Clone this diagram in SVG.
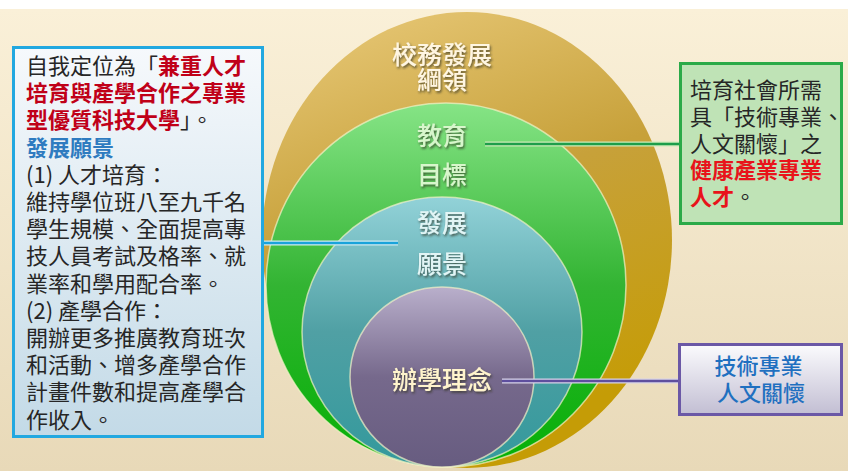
<svg xmlns="http://www.w3.org/2000/svg" width="848" height="471" viewBox="0 0 848 471">
  <defs>
    <linearGradient id="bg" x1="0" y1="0" x2="0" y2="1">
      <stop offset="0" stop-color="#FAF0D8"/>
      <stop offset="1" stop-color="#E8D9B8"/>
    </linearGradient>
    <linearGradient id="gold" x1="0" y1="0" x2="0.3" y2="1">
      <stop offset="0" stop-color="#EACB7C"/>
      <stop offset="0.5" stop-color="#C7A13A"/>
      <stop offset="1" stop-color="#C59C06"/>
    </linearGradient>
    <linearGradient id="green" x1="0" y1="0" x2="0" y2="1">
      <stop offset="0" stop-color="#86E486"/>
      <stop offset="0.5" stop-color="#33B433"/>
      <stop offset="1" stop-color="#04B004"/>
    </linearGradient>
    <linearGradient id="teal" x1="0" y1="0" x2="0" y2="1">
      <stop offset="0" stop-color="#92D2D8"/>
      <stop offset="0.5" stop-color="#50A0A4"/>
      <stop offset="1" stop-color="#33999C"/>
    </linearGradient>
    <linearGradient id="purple" x1="0" y1="0" x2="0" y2="1">
      <stop offset="0" stop-color="#B9AFCB"/>
      <stop offset="0.5" stop-color="#76698C"/>
      <stop offset="1" stop-color="#675C80"/>
    </linearGradient>
    <linearGradient id="leftfill" x1="0" y1="0" x2="0" y2="1">
      <stop offset="0" stop-color="#F6F9FC"/>
      <stop offset="1" stop-color="#C3DAE7"/>
    </linearGradient>
    <linearGradient id="purplefill" x1="0" y1="0" x2="0" y2="1">
      <stop offset="0" stop-color="#FBFBFD"/>
      <stop offset="1" stop-color="#C2BED3"/>
    </linearGradient>
    <filter id="shadow" x="-20%" y="-30%" width="140%" height="160%">
      <feDropShadow dx="1.2" dy="1.8" stdDeviation="0.9" flood-color="#303020" flood-opacity="0.75"/>
    </filter>
  </defs>
  <style>
    text { font-family: "Noto Sans CJK TC", "Noto Sans CJK SC", sans-serif; }
    .body { font-size: 22px; fill: #262626; }
    .red { fill: #C00018; font-weight: 700; }
    .bred { fill: #E8141B; font-weight: 700; }
    .blue { fill: #2E7BC0; font-weight: 700; }
    .lbl { font-size: 25px; font-weight: 500; text-anchor: middle; filter: url(#shadow); }
    .rim { stroke: #F4F2C8; stroke-opacity: 0.7; stroke-width: 1.5; }
  </style>

  <rect x="0" y="0" width="848" height="471" fill="#FFFFFF"/>
  <rect x="0" y="9" width="848" height="462" fill="url(#bg)"/>

  <g id="circles">
    <ellipse id="c-outer" cx="467" cy="240" rx="205" ry="228" fill="url(#gold)"/>
    <ellipse id="c-green" cx="446" cy="285" rx="180" ry="182" fill="url(#green)" class="rim"/>
    <ellipse id="c-teal" cx="442" cy="332" rx="140" ry="135" fill="url(#teal)" class="rim"/>
    <ellipse id="c-purple" cx="442" cy="377" rx="92" ry="90" fill="url(#purple)" class="rim"/>
  </g>

  <g id="connectors">
    <line x1="485" y1="144" x2="680" y2="144" stroke="#CDEBB8" stroke-width="5"/>
    <line x1="485" y1="144" x2="680" y2="144" stroke="#1E9E4A" stroke-width="2.5"/>
    <line x1="263" y1="243" x2="398" y2="243" stroke="#CFEAF0" stroke-width="5"/>
    <line x1="263" y1="243" x2="398" y2="243" stroke="#1AA3DA" stroke-width="2.5"/>
    <line x1="502" y1="381" x2="679" y2="381" stroke="#D8D4E8" stroke-width="5"/>
    <line x1="502" y1="381" x2="679" y2="381" stroke="#5E4F9E" stroke-width="2.5"/>
  </g>

  <g id="labels">
    <text class="lbl" x="442" y="64" fill="#FFF6E2">校務發展</text>
    <text class="lbl" x="442" y="89" fill="#FFF6E2">綱領</text>
    <text class="lbl" x="442" y="145" fill="#D8F6CC">教育</text>
    <text class="lbl" x="442" y="184" fill="#D8F6CC">目標</text>
    <text class="lbl" x="442" y="232" fill="#E2F5F5">發展</text>
    <text class="lbl" x="442" y="273" fill="#E2F5F5">願景</text>
    <text class="lbl" x="442" y="389" fill="#FFF4CC">辦學理念</text>
  </g>

  <g id="left-box">
    <rect x="13.5" y="47.5" width="249" height="389" fill="url(#leftfill)" stroke="#22A8E0" stroke-width="3"/>
    <text class="body">
      <tspan x="26" y="74">自我定位為「<tspan class="red">兼重人才</tspan></tspan>
      <tspan x="26" y="101.2" class="red">培育與產學合作之專業</tspan>
      <tspan x="26" y="128.4"><tspan class="red">型優質科技大學</tspan>」。</tspan>
      <tspan x="26" y="155.6" class="blue">發展願景</tspan>
      <tspan x="26" y="182.8">(1) 人才培育：</tspan>
      <tspan x="26" y="210">維持學位班八至九千名</tspan>
      <tspan x="26" y="237.2">學生規模、全面提高專</tspan>
      <tspan x="26" y="264.4">技人員考試及格率、就</tspan>
      <tspan x="26" y="291.6">業率和學用配合率。</tspan>
      <tspan x="26" y="318.8">(2) 產學合作：</tspan>
      <tspan x="26" y="346">開辦更多推廣教育班次</tspan>
      <tspan x="26" y="373.2">和活動、增多產學合作</tspan>
      <tspan x="26" y="400.4">計畫件數和提高產學合</tspan>
      <tspan x="26" y="427.6">作收入。</tspan>
    </text>
  </g>

  <g id="green-box">
    <rect x="680.5" y="63.5" width="161" height="160" fill="#BFE3B6" stroke="#2BAA48" stroke-width="3"/>
    <text class="body">
      <tspan x="690" y="98">培育社會所需</tspan>
      <tspan x="690" y="125">具「技術專業、</tspan>
      <tspan x="690" y="152">人文關懷」之</tspan>
      <tspan x="690" y="178" class="bred">健康產業專業</tspan>
      <tspan x="690" y="205"><tspan class="bred">人才</tspan>。</tspan>
    </text>
  </g>

  <g id="purple-box">
    <rect x="679.5" y="344.5" width="162" height="70" fill="url(#purplefill)" stroke="#6B58A6" stroke-width="3"/>
    <text class="body" text-anchor="middle" style="fill:#1F70C0; font-weight:500">
      <tspan x="761" y="374">技術專業</tspan>
      <tspan x="761" y="401">人文關懷</tspan>
    </text>
  </g>
</svg>
